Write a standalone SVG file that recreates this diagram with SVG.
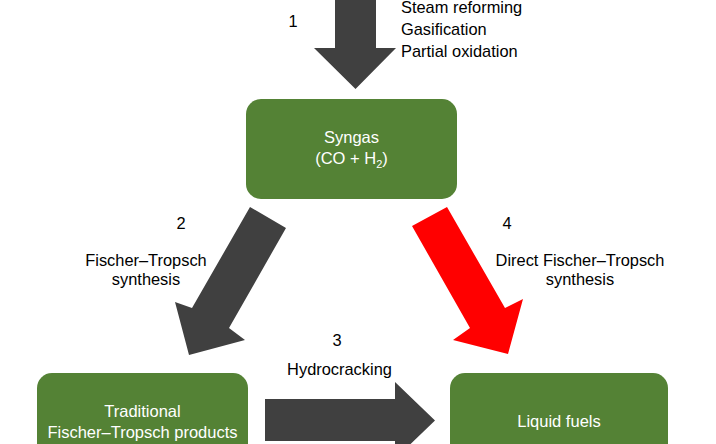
<svg xmlns="http://www.w3.org/2000/svg" width="716" height="444" viewBox="0 0 716 444">
<style>
.box{fill:#548235}
.bt{font-family:"Liberation Sans",Arial,sans-serif;font-size:16.5px;fill:#ffffff;text-anchor:middle}
.lb{font-family:"Liberation Sans",Arial,sans-serif;font-size:16.4px;fill:#000000}
.c{text-anchor:middle}
.dark{fill:#404040}
.red{fill:#ff0000}
</style>
<rect width="716" height="444" fill="#ffffff"/>
<g id="connectors">
<polygon id="arrow1" class="dark" points="335,-5 376,-5 376,48 396,48 355.5,89 314,48 335,48"/>
<polygon id="arrow2" class="dark" points="250,207 286,228 229,328 245,340 189,355 175,302 192,308"/>
<polygon id="arrow3" class="dark" points="265,399 395,399 395,382 435,420.5 395,459 395,441 265,441"/>
<polygon id="arrow4" class="red" points="447,207 412,226 470,328 453,340 508,354 523,299 505,308"/>
</g>
<g id="syngas">
<rect class="box" x="246" y="99" width="211" height="100" rx="15"/>
<text class="bt" x="351.5" y="143">Syngas</text>
<text class="bt" x="351.5" y="164">(CO + H<tspan font-size="11" dy="4">2</tspan><tspan dy="-4">)</tspan></text>
</g>
<g id="traditional">
<rect class="box" x="37" y="373" width="211" height="100" rx="15"/>
<text class="bt" x="142.5" y="417">Traditional</text>
<text class="bt" x="142.5" y="438">Fischer–Tropsch products</text>
</g>
<g id="liquid">
<rect class="box" x="450" y="373" width="218" height="100" rx="15"/>
<text class="bt" x="559" y="427">Liquid fuels</text>
</g>
<g id="labels">
<text class="lb c" x="293" y="27">1</text>
<text class="lb" x="401" y="13">Steam reforming</text>
<text class="lb" x="401" y="35">Gasification</text>
<text class="lb" x="401" y="57">Partial oxidation</text>
<text class="lb c" x="181" y="229">2</text>
<text class="lb c" x="146" y="266">Fischer–Tropsch</text>
<text class="lb c" x="146" y="285">synthesis</text>
<text class="lb c" x="337" y="346">3</text>
<text class="lb c" x="339.5" y="375">Hydrocracking</text>
<text class="lb c" x="507" y="229">4</text>
<text class="lb c" x="580" y="266">Direct Fischer–Tropsch</text>
<text class="lb c" x="580" y="285">synthesis</text>
</g>
</svg>
